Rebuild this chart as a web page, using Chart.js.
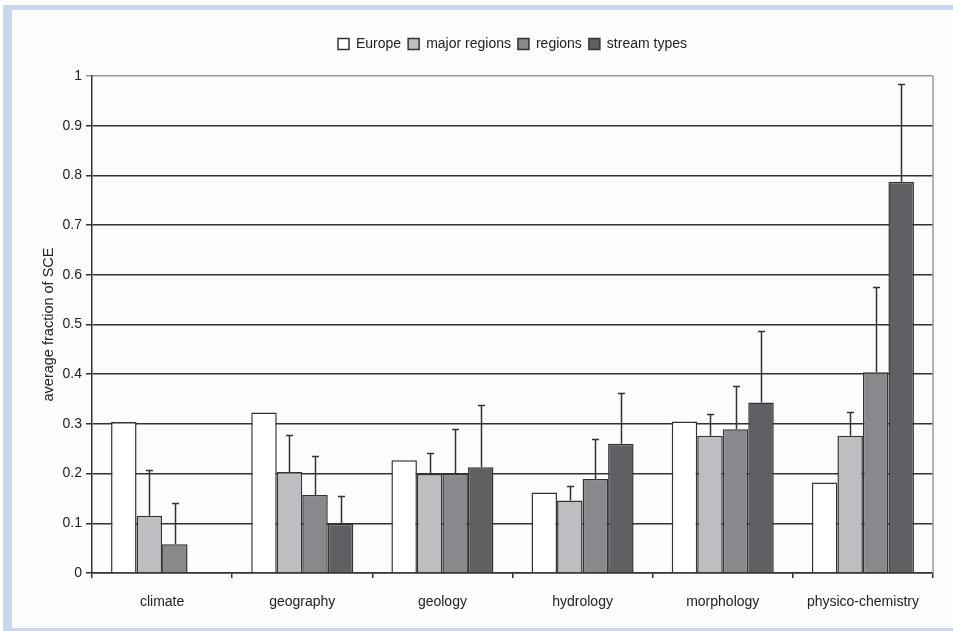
<!DOCTYPE html>
<html>
<head>
<meta charset="utf-8">
<script src="https://cdn.jsdelivr.net/npm/chart.js@4.4.1/dist/chart.umd.min.js"></script>
<style>
  html, body { margin: 0; padding: 0; background: #ffffff; }
  #frame { position: absolute; left: 0; top: 0; width: 953px; height: 631px; overflow: hidden; background: #ffffff; }
  #inner { position: absolute; left: 3px; top: 5px; width: 941px; height: 618px;
           border-left: 9px solid #c8d8ee; border-top: 5px solid #c8d8ee; border-bottom: 3px solid #c8d8ee;
           background: #fbfcfe; }
  #c { position: absolute; left: 0; top: 0; }
</style>
</head>
<body>
<div id="frame"><div id="inner"></div><canvas id="c" width="953" height="631"></canvas></div>
<script>
const categories = ["climate", "geography", "geology", "hydrology", "morphology", "physico-chemistry"];
const seriesNames = ["Europe", "major regions", "regions", "stream types"];

const europe       = [0.304, 0.323, 0.227, 0.162, 0.305, 0.182];
const majorRegions = [0.115, 0.203, 0.199, 0.146, 0.276, 0.276];
const regions      = [0.058, 0.157, 0.199, 0.189, 0.289, 0.404];
const streamTypes  = [null,  0.099, 0.213, 0.260, 0.343, 0.787];

// upper end of the error bars (null = no error bar)
const europeUpper       = [null, null, null, null, null, null];
const majorRegionsUpper = [0.207, 0.277, 0.241, 0.176, 0.320, 0.323];
const regionsUpper      = [0.140, 0.235, 0.289, 0.269, 0.377, 0.575];
const streamTypesUpper  = [null,  0.155, 0.338, 0.363, 0.487, 0.983];

const yTicks = [0, 0.1, 0.2, 0.3, 0.4, 0.5, 0.6, 0.7, 0.8, 0.9, 1];

const seriesValues = [europe, majorRegions, regions, streamTypes];
const seriesUpper = [europeUpper, majorRegionsUpper, regionsUpper, streamTypesUpper];
const fills = ["#ffffff", "#bdbec1", "#88898c", "#5f6063"];
const FONT = "'Liberation Sans', Arial, sans-serif";

const errorBars = {
  id: "errorBars",
  beforeLayout(chart) {
    const lg = chart.legend;
    if (lg && !lg._extraGap) {
      const f = lg.fit.bind(lg);
      lg.fit = function () { f(); this.height += 15; };
      lg._extraGap = true;
    }
  },
  afterDatasetsDraw(chart) {
    const ctx = chart.ctx;
    const y = chart.scales.y;
    ctx.save();
    ctx.strokeStyle = "#333333";
    ctx.lineWidth = 1.5;
    chart.data.datasets.forEach((ds, i) => {
      const meta = chart.getDatasetMeta(i);
      const ups = seriesUpper[i];
      meta.data.forEach((bar, j) => {
        const u = ups[j];
        const v = ds.data[j];
        if (u == null || v == null) return;
        const yt = Math.round(y.getPixelForValue(u)) + 0.5;
        const yb = bar.y;
        const x = Math.round(bar.x) + 0.5;
        ctx.beginPath();
        ctx.moveTo(x, yb);
        ctx.lineTo(x, yt);
        ctx.moveTo(x - 3.5, yt);
        ctx.lineTo(x + 3.5, yt);
        ctx.stroke();
      });
    });
    const a = chart.chartArea;
    ctx.strokeStyle = "#9a9a9a";
    ctx.lineWidth = 1.5;
    ctx.beginPath();
    ctx.moveTo(a.right, a.top);
    ctx.lineTo(a.right, a.bottom);
    ctx.stroke();
    ctx.restore();
  }
};

new Chart(document.getElementById("c"), {
  type: "bar",
  data: {
    labels: categories,
    datasets: seriesNames.map((name, i) => ({
      label: name,
      data: seriesValues[i],
      backgroundColor: fills[i],
      borderColor: "#333333",
      borderWidth: 1.5,
      borderSkipped: "bottom",
      categoryPercentage: 0.728,
      barPercentage: 1.0
    }))
  },
  options: {
    responsive: false,
    animation: false,
    devicePixelRatio: 1,
    layout: { padding: { top: 30, right: 20, bottom: 0, left: 0 } },
    plugins: {
      tooltip: { enabled: false },
      legend: {
        position: "top",
        fullSize: false,
        labels: {
          boxWidth: 11,
          boxHeight: 11,
          padding: 7,
          color: "#222222",
          font: { family: FONT, size: 14 }
        }
      }
    },
    scales: {
      x: {
        afterFit(scale) { scale.height = 58; },
        grid: { drawOnChartArea: false, drawTicks: true, tickLength: 5, offset: true, color: "#333333", lineWidth: 1.5 },
        border: { color: "#333333", width: 1.5 },
        ticks: { padding: 16, color: "#222222", font: { family: FONT, size: 14 } }
      },
      y: {
        min: 0,
        max: 1,
        afterFit(scale) { scale.width = 92; },
        afterBuildTicks(scale) { scale.ticks = yTicks.map(v => ({ value: v })); },
        grid: {
          color: (c) => (c.tick && c.tick.value === 1 ? "#9a9a9a" : "#333333"),
          lineWidth: 1.5,
          tickLength: 6,
          drawTicks: true
        },
        border: { color: "#333333", width: 1.5 },
        ticks: {
          padding: 4,
          color: "#222222",
          font: { family: FONT, size: 14 },
          callback: (v) => String(v)
        },
        title: {
          display: true,
          text: "average fraction of SCE",
          color: "#222222",
          padding: { top: 40, bottom: 0 },
          font: { family: FONT, size: 14.5 }
        }
      }
    }
  },
  plugins: [errorBars]
});
</script>
</body>
</html>
